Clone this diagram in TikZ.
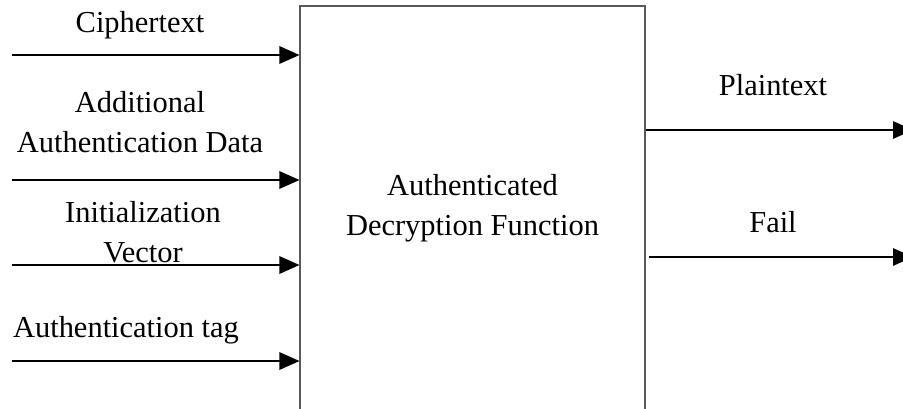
\documentclass[tikz,border=0pt]{standalone}
\usepackage{fontspec}
\setmainfont{Liberation Serif}
\usetikzlibrary{arrows.meta,positioning}

\begin{document}
\begin{tikzpicture}[x=0.03cm,y=-0.03cm,
    lbl/.style={align=center,inner sep=0pt,font=\fontsize{26}{34}\selectfont},
    flow/.style={line width=1.7pt,-{Triangle[length=0.6cm,width=0.52cm]}}]
  \useasboundingbox (0,0) rectangle (903,408);
  \clip (0,0) rectangle (903,408);

  % the function block
  \node[draw=black!65,line width=0.9pt,lbl,minimum width=10.35cm,minimum height=12.12cm]
    (adf) at (472.5,208) {Authenticated\\Decryption Function};

  % inputs
  \node[lbl] (ct) at (140,25) {Ciphertext};
  \node[lbl] (aad) at (140,122) {Additional\\Authentication Data};
  \node[lbl] (iv) at (143,232) {Initialization\\Vector};
  \node[lbl] (tag) at (126,330) {Authentication tag};
  \coordinate (ct0) at (12,55);
  \coordinate (aad0) at (12,180);
  \coordinate (iv0) at (12,265);
  \coordinate (tag0) at (12,361);
  \draw[flow] (ct0) -- (ct0 -| adf.west);
  \draw[flow] (aad0) -- (aad0 -| adf.west);
  \draw[flow] (iv0) -- (iv0 -| adf.west);
  \draw[flow] (tag0) -- (tag0 -| adf.west);

  % outputs
  \node[lbl] (pt) at (773,85) {Plaintext};
  \node[lbl] (fl) at (773,222) {Fail};
  \coordinate (pt1) at (913,130);
  \coordinate (fl0) at (649,257);
  \coordinate (fl1) at (913,257);
  \draw[flow] (pt1 -| adf.east) -- (pt1);
  \draw[flow] (fl0) -- (fl1);
\end{tikzpicture}
\end{document}
